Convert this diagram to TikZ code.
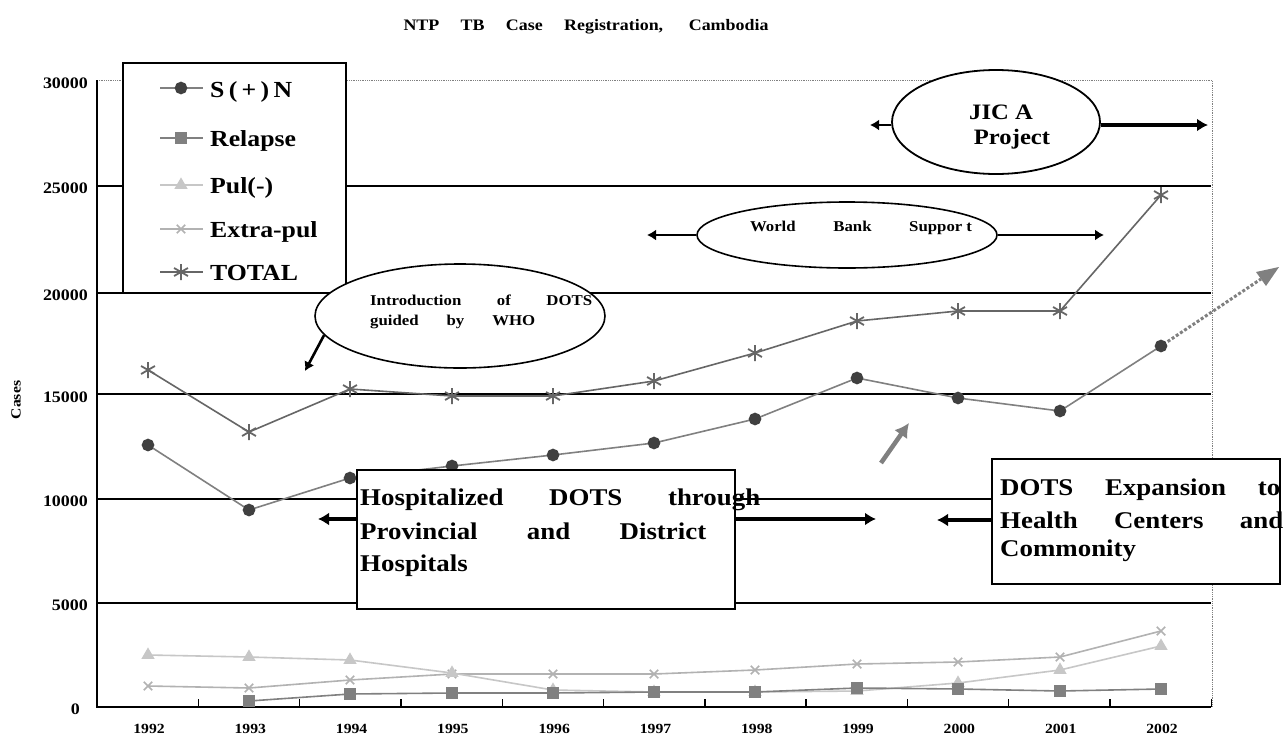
\documentclass[tikz,border=0pt]{standalone}
\usepackage{fontspec}
\setmainfont{Liberation Serif}
\newfontfamily\wideserif[FakeStretch=1.12]{Liberation Serif}
\usetikzlibrary{arrows.meta,shapes.geometric,plotmarks}
\definecolor{sncol}{gray}{0.25}
\definecolor{serline}{gray}{0.5}
\definecolor{totcol}{gray}{0.4}
\definecolor{relcol}{gray}{0.5}
\definecolor{pulcol}{gray}{0.78}
\definecolor{excol}{gray}{0.7}
\begin{document}
\begin{tikzpicture}[x=1pt,y=-1pt,
  gridln/.style={line width=1.4pt},
  border/.style={gray, line width=0.8pt, densely dotted},
  ylabel/.style={font=\wideserif\bfseries\fontsize{16}{18}\selectfont, inner sep=0pt, anchor=east},
  xlabel/.style={font=\wideserif\bfseries\fontsize{14}{16}\selectfont, inner sep=0pt},
  legtext/.style={font=\wideserif\bfseries\fontsize{23}{27}\selectfont, anchor=base west, inner sep=0pt},
  boxtext/.style={font=\wideserif\bfseries\fontsize{24}{28}\selectfont, anchor=base west, inner sep=0pt},
  smalltext/.style={font=\wideserif\bfseries\fontsize{15}{17}\selectfont, inner sep=0pt},
  bigarrow/.style={line width=4pt, -{Latex[length=11pt,width=13pt]}},
  midarrow/.style={line width=2.6pt, -{Latex[length=9pt,width=11pt]}},
  snser/.style={serline, line width=1.6pt, mark=*, mark size=5.5pt, mark options={fill=sncol, draw=sncol}},
  totser/.style={totcol, line width=1.6pt, mark=asterisk, mark size=8pt, mark options={draw=totcol, line width=1.8pt}},
  relser/.style={relcol, line width=1.6pt, mark=square*, mark size=5pt, mark options={fill=relcol, draw=relcol}},
  pulser/.style={pulcol, line width=1.6pt, mark=triangle*, mark size=6pt, mark options={fill=pulcol, draw=pulcol}},
  exser/.style={excol, line width=1.6pt, mark=x, mark size=6pt, mark options={draw=excol, line width=1.6pt}},
  boxnode/.style={draw, fill=white, line width=1.5pt, anchor=north west, inner sep=0pt},
  ellnode/.style={ellipse, draw, fill=white, line width=1.8pt, inner sep=0pt}
]
\useasboundingbox (0,0) rectangle (1286,745);
\fill[white] (0,0) rectangle (1286,745);

% title
\node[font=\wideserif\bfseries\fontsize{16}{18}\selectfont, inner sep=0pt] (title) at (586,27)
  {\makebox[365pt][s]{NTP TB Case Registration, Cambodia}};

% plot frame and grid
\draw[border] (97,80) -- (1212,80) -- (1212,707);
\foreach \yy in {186,293,394,499,603} \draw[gridln] (97,\yy) -- (1211,\yy);
\draw[gridln] (97,80) -- (97,707) -- (1211,707);
\foreach \i in {0,...,11} \draw[gridln] ({97+101.3*\i},707) -- ({97+101.3*\i},699);

% y labels
\node[ylabel] (y30) at (88,83) {30000};
\node[ylabel] (y25) at (88,188) {25000};
\node[ylabel] (y20) at (88,295) {20000};
\node[ylabel] (y15) at (88,397) {15000};
\node[ylabel] (y10) at (88,501) {10000};
\node[ylabel] (y05) at (88,605) {5000};
\node[ylabel] (y00) at (80,709) {0};
\node[xlabel, rotate=90] (ylab) at (16,400) {Cases};

% x labels
\foreach \yr [count=\i from 0] in {1992,1993,1994,1995,1996,1997,1998,1999,2000,2001,2002}
  \node[xlabel] (x\yr) at ({149+101.3*\i},729) {\yr};

% series
\draw[exser] plot coordinates {(148,686) (249,688) (350,680) (452,674) (553,674) (654,674) (755,670) (857,664) (958,662) (1060,657) (1161,631)};
\draw[pulser] plot coordinates {(148,655) (249,657) (350,660) (452,673) (553,690) (654,692) (755,692) (857,691) (958,683) (1060,670) (1161,646)};
\draw[relser] plot coordinates {(249,701) (350,694) (452,693) (553,693) (654,692) (755,692) (857,688) (958,689) (1060,691) (1161,689)};
\draw[totser] plot coordinates {(148,370) (249,432) (350,389) (452,396) (553,396) (654,381) (755,353) (857,321) (958,311) (1060,311) (1161,195)};
\draw[snser] plot coordinates {(148,445) (249,510) (350,478) (452,466) (553,455) (654,443) (755,419) (857,378) (958,398) (1060,411) (1161,346)};

% dotted extension arrow from 2002
\coordinate (sn2002) at (1161,346);
\coordinate (extbase) at (1261,279);
\coordinate (extc1) at (1266,286);
\coordinate (extc2) at (1256,272);
\coordinate (exttip) at (1279,267);
\draw[gray, line width=3pt, dash pattern=on 3pt off 2pt, shorten <=8pt] (sn2002) -- (extbase);
\fill[gray] (exttip) -- (extc1) -- (extc2) -- cycle;

% gray up arrow
\coordinate (ga0) at (881,463);
\coordinate (ga1) at (909,423);
\draw[gray, line width=4.5pt, -{Latex[length=14pt,width=16pt]}] (ga0) -- (ga1);

% legend
\node[boxnode, minimum width=223pt, minimum height=230pt] (legend) at (122,62) {};
\draw[snser, mark indices={2}] plot coordinates {(160,88) (181,88) (203,88)};
\draw[relser, mark indices={2}] plot coordinates {(160,138) (181,138) (203,138)};
\draw[pulser, mark indices={2}] plot coordinates {(160,185) (181,185) (203,185)};
\draw[exser, mark indices={2}] plot coordinates {(160,229) (181,229) (203,229)};
\draw[totser, mark indices={2}] plot coordinates {(160,272) (181,272) (203,272)};
\node[legtext] (l1) at (210,97) {\makebox[80pt][s]{S ( + ) N}};
\node[legtext] (l2) at (210,146) {Relapse};
\node[legtext] (l3) at (210,193) {Pul(-)};
\node[legtext] (l4) at (210,237) {Extra-pul};
\node[legtext] (l5) at (210,280) {TOTAL};

% JICA ellipse
\node[ellnode, minimum width=208pt, minimum height=104pt] (jica) at (996,122) {};
\node[font=\wideserif\bfseries\fontsize{22}{24}\selectfont, inner sep=0pt] (jica1) at (1001,112) {JIC A};
\node[font=\wideserif\bfseries\fontsize{22}{24}\selectfont, inner sep=0pt] (jica2) at (1012,139) {Project};
\coordinate (jicaL) at (870,125);
\coordinate (jicaR) at (1208,125);
\draw[midarrow] (jica.west |- jicaL) -- (jicaL);
\draw[bigarrow] (jica.east |- jicaR) -- (jicaR);

% World Bank ellipse
\node[ellnode, line width=1.6pt, minimum width=300pt, minimum height=66pt] (wb) at (847,235) {};
\node[smalltext] (wbt) at (861,228) {\makebox[222pt][s]{World Bank Suppor\kern4pt t}};
\coordinate (wbL) at (647,235);
\coordinate (wbR) at (1104,235);
\draw[midarrow] (wb.west) -- (wbL);
\draw[midarrow] (wb.east) -- (wbR);

% Introduction ellipse
\node[ellnode, line width=1.6pt, minimum width=290pt, minimum height=104pt] (intro) at (460,316) {};
\node[smalltext, anchor=west] (intro1) at (370,300) {\makebox[222pt][s]{Introduction of DOTS}};
\node[smalltext, anchor=west] (intro2) at (370,322) {\makebox[165pt][s]{guided by WHO}};
\coordinate (introtip) at (305,371);
\draw[midarrow] (intro.188) -- (introtip);

% Hospitalized box
\node[boxnode, minimum width=378pt, minimum height=139pt] (hosp) at (356,469) {};
\node[boxtext] (h1) at (360,505) {\makebox[400pt][s]{Hospitalized DOTS through}};
\node[boxtext] (h2) at (360,539) {\makebox[346pt][s]{Provincial and District}};
\node[boxtext] (h3) at (360,571) {Hospitals};
\coordinate (hL) at (318,519);
\coordinate (hR) at (876,519);
\draw[bigarrow] (hosp.west |- hL) -- (hL);
\draw[bigarrow] (hosp.east |- hR) -- (hR);

% DOTS Expansion box
\node[boxnode, minimum width=288pt, minimum height=125pt] (exp) at (991,458) {};
\node[boxtext] (e1) at (1000,495) {\makebox[280pt][s]{DOTS Expansion to}};
\node[boxtext] (e2) at (1000,528) {\makebox[283pt][s]{Health Centers and}};
\node[boxtext] (e3) at (1000,556) {Commonity};
\coordinate (eL) at (937,520);
\draw[bigarrow] (exp.west |- eL) -- (eL);
\end{tikzpicture}
\end{document}
